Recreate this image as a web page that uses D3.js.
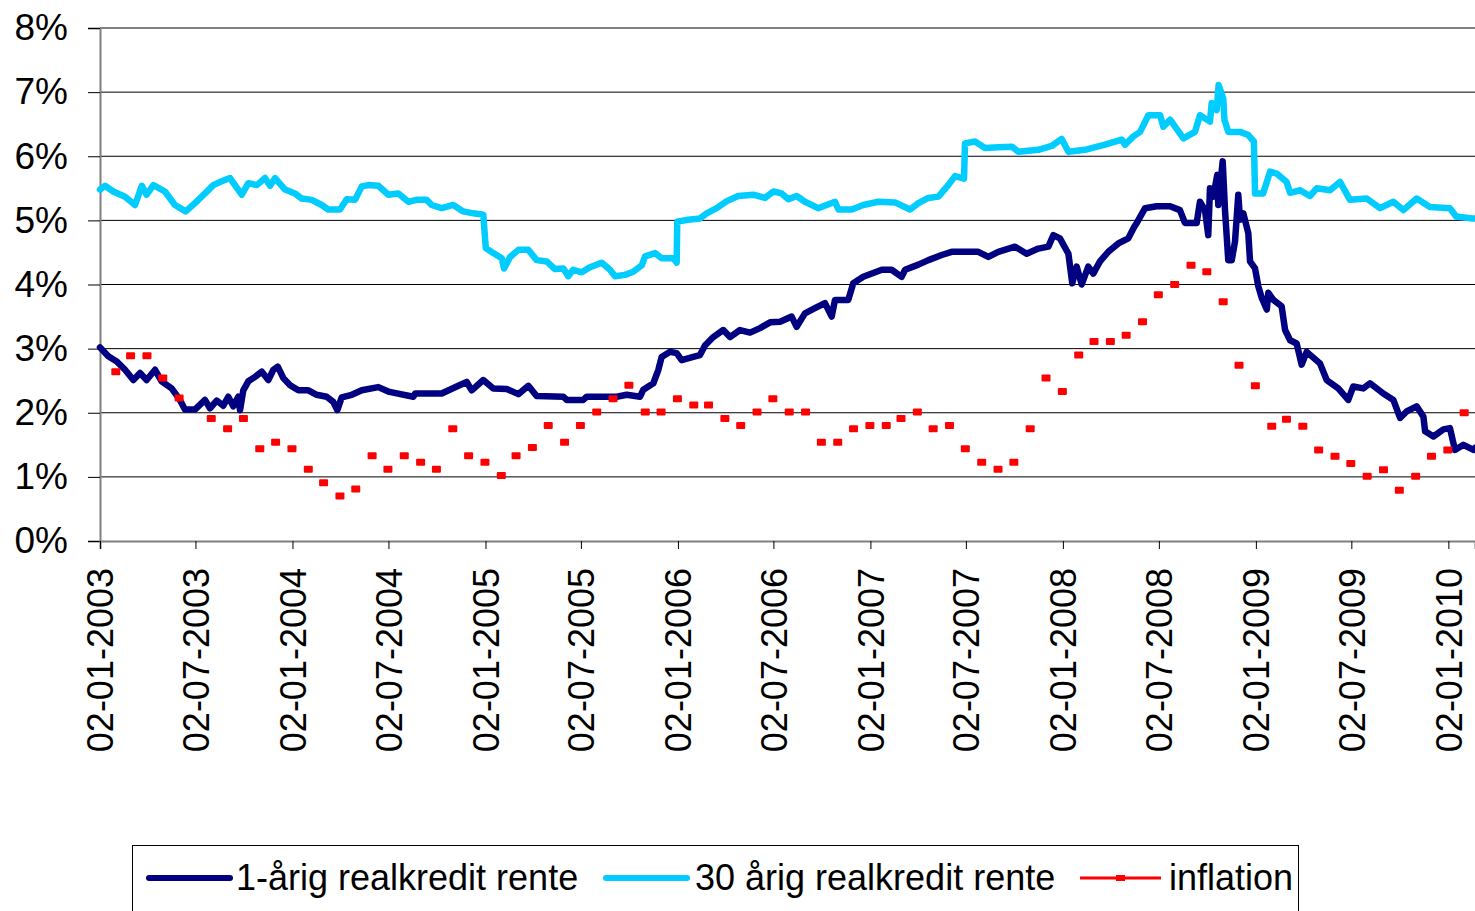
<!DOCTYPE html>
<html>
<head>
<meta charset="utf-8">
<script src="https://cdn.jsdelivr.net/npm/d3@7"></script>
<style>
  body { margin: 0; background: #fff; }
  text { font-family: "Liberation Sans", Arial, sans-serif; }
</style>
</head>
<body>
<div id="chart"></div>
<script>
// decimal year (counted from 02-01-2003) + rate in %
var navyYear = [2003.000,2003.043,2003.087,2003.130,2003.173,2003.208,2003.242,2003.286,2003.320,2003.372,
  2003.415,2003.441,2003.493,2003.545,2003.571,2003.606,2003.640,2003.666,2003.692,2003.718,
  2003.727,2003.744,2003.770,2003.805,2003.840,2003.874,2003.900,2003.923,2003.952,2003.987,
  2004.030,2004.082,2004.125,2004.177,2004.211,2004.232,2004.255,2004.307,2004.359,2004.445,
  2004.497,2004.627,2004.636,2004.774,2004.852,2004.904,2004.930,2004.990,2005.042,2005.112,
  2005.172,2005.224,2005.267,2005.406,2005.423,2005.509,2005.527,2005.683,2005.735,2005.804,
  2005.821,2005.873,2005.899,2005.916,2005.960,2005.994,2006.020,2006.080,2006.115,2006.141,
  2006.184,2006.236,2006.271,2006.323,2006.375,2006.427,2006.479,2006.531,2006.591,2006.617,
  2006.660,2006.712,2006.764,2006.799,2006.816,2006.885,2006.911,2006.963,2007.059,2007.110,
  2007.162,2007.180,2007.249,2007.301,2007.370,2007.422,2007.560,2007.612,2007.664,2007.751,
  2007.811,2007.872,2007.924,2007.950,2007.984,2008.028,2008.048,2008.071,2008.097,2008.131,
  2008.157,2008.192,2008.235,2008.287,2008.339,2008.370,2008.383,2008.426,2008.486,2008.556,
  2008.607,2008.633,2008.694,2008.711,2008.737,2008.754,2008.763,2008.780,2008.801,2008.806,
  2008.829,2008.841,2008.858,2008.876,2008.893,2008.910,2008.919,2008.936,2008.962,2008.971,
  2008.997,2009.014,2009.032,2009.058,2009.066,2009.092,2009.135,2009.153,2009.179,2009.213,
  2009.239,2009.265,2009.334,2009.369,2009.429,2009.481,2009.507,2009.559,2009.594,2009.663,
  2009.715,2009.750,2009.784,2009.836,2009.871,2009.880,2009.923,2009.975,2010.009,2010.035,
  2010.079,2010.131,2010.139];
var navyRate = [3.02,2.88,2.80,2.67,2.51,2.62,2.51,2.67,2.49,2.38,
  2.20,2.05,2.05,2.20,2.07,2.19,2.11,2.25,2.10,2.25,
  2.04,2.35,2.49,2.56,2.64,2.51,2.67,2.72,2.54,2.43,
  2.35,2.35,2.28,2.25,2.17,2.04,2.24,2.28,2.35,2.40,
  2.33,2.25,2.30,2.30,2.41,2.48,2.35,2.51,2.38,2.37,
  2.29,2.42,2.26,2.25,2.20,2.20,2.25,2.25,2.28,2.25,
  2.36,2.46,2.67,2.87,2.95,2.93,2.82,2.87,2.90,3.05,
  3.18,3.29,3.18,3.29,3.25,3.32,3.41,3.42,3.50,3.34,
  3.55,3.63,3.71,3.50,3.76,3.76,4.02,4.12,4.23,4.23,
  4.12,4.23,4.31,4.38,4.46,4.51,4.51,4.43,4.51,4.59,
  4.48,4.56,4.59,4.77,4.72,4.48,4.02,4.28,4.00,4.28,
  4.17,4.36,4.51,4.64,4.72,4.90,4.96,5.19,5.22,5.22,
  5.16,4.96,4.96,5.29,5.16,4.77,5.50,5.37,5.71,5.24,
  5.92,5.16,4.38,4.38,4.67,5.40,5.01,5.11,4.80,4.36,
  4.25,3.97,3.79,3.61,3.87,3.76,3.66,3.29,3.13,3.08,
  2.75,2.95,2.77,2.51,2.38,2.20,2.41,2.38,2.46,2.30,
  2.20,1.92,2.02,2.10,1.94,1.71,1.63,1.74,1.76,1.42,
  1.50,1.42,1.45];

var cyanYear = [2003.000,2003.026,2003.069,2003.130,2003.182,2003.217,2003.242,2003.277,2003.337,2003.389,
  2003.445,2003.493,2003.545,2003.588,2003.632,2003.675,2003.736,2003.770,2003.814,2003.857,
  2003.883,2003.909,2003.961,2004.012,2004.047,2004.099,2004.151,2004.185,2004.246,2004.281,
  2004.324,2004.359,2004.393,2004.445,2004.497,2004.549,2004.601,2004.644,2004.696,2004.722,
  2004.774,2004.834,2004.886,2004.938,2004.990,2005.003,2005.042,2005.086,2005.098,2005.129,
  2005.172,2005.224,2005.267,2005.319,2005.362,2005.406,2005.431,2005.457,2005.501,2005.544,
  2005.605,2005.648,2005.674,2005.726,2005.769,2005.813,2005.830,2005.882,2005.916,2005.977,
  2005.994,2005.997,2006.054,2006.115,2006.150,2006.202,2006.254,2006.314,2006.392,2006.453,
  2006.496,2006.539,2006.574,2006.617,2006.660,2006.729,2006.816,2006.834,2006.903,2006.963,
  2007.041,2007.128,2007.206,2007.249,2007.301,2007.353,2007.404,2007.439,2007.486,2007.491,
  2007.543,2007.595,2007.664,2007.734,2007.768,2007.872,2007.941,2007.993,2008.028,2008.114,
  2008.218,2008.305,2008.322,2008.365,2008.400,2008.443,2008.504,2008.521,2008.556,2008.625,
  2008.685,2008.711,2008.763,2008.772,2008.798,2008.808,2008.832,2008.838,2008.858,2008.919,
  2008.962,2008.991,2008.997,2009.039,2009.075,2009.109,2009.161,2009.179,2009.231,2009.282,
  2009.317,2009.386,2009.438,2009.490,2009.577,2009.646,2009.715,2009.767,2009.836,2009.905,
  2010.009,2010.041,2010.127,2010.139];
var cyanRate = [5.48,5.54,5.45,5.37,5.24,5.54,5.40,5.55,5.45,5.24,
  5.14,5.27,5.42,5.55,5.61,5.66,5.40,5.58,5.55,5.66,
  5.54,5.66,5.48,5.42,5.34,5.32,5.24,5.17,5.17,5.33,
  5.32,5.53,5.55,5.54,5.40,5.42,5.29,5.32,5.32,5.24,
  5.19,5.24,5.14,5.11,5.09,4.57,4.49,4.41,4.25,4.43,
  4.54,4.54,4.38,4.36,4.24,4.25,4.13,4.23,4.19,4.27,
  4.34,4.23,4.13,4.15,4.20,4.30,4.44,4.49,4.41,4.41,
  4.34,4.98,5.01,5.03,5.11,5.19,5.30,5.38,5.40,5.35,
  5.45,5.42,5.33,5.38,5.29,5.19,5.29,5.17,5.17,5.24,
  5.29,5.28,5.17,5.27,5.35,5.37,5.55,5.69,5.65,6.20,
  6.23,6.13,6.14,6.15,6.07,6.10,6.16,6.27,6.07,6.10,
  6.18,6.26,6.18,6.31,6.38,6.64,6.64,6.46,6.57,6.28,
  6.38,6.64,6.54,6.83,6.72,7.11,6.90,6.57,6.38,6.38,
  6.33,6.23,5.42,5.42,5.76,5.73,5.60,5.43,5.47,5.38,
  5.50,5.47,5.60,5.32,5.34,5.19,5.29,5.16,5.34,5.21,
  5.19,5.06,5.03,5.03];

// monthly inflation, Feb 2003 .. Feb 2010 (null = no observation)
var inflationStart = "2003-02";
var inflationRate = [2.64,2.89,2.89,2.54,2.23,null,1.91,1.75,1.91,1.44,1.54,
  1.44,1.12,0.91,0.70,0.81,1.33,1.12,1.33,1.23,1.12,1.75,1.33,
  1.23,1.02,1.33,1.46,1.80,1.54,1.80,2.01,2.22,2.43,2.01,2.01,
  2.22,2.12,2.12,1.91,1.80,2.01,2.22,2.01,2.01,1.54,1.54,1.75,
  1.80,1.80,1.91,2.01,1.75,1.80,1.44,1.23,1.12,1.23,1.75,2.54,
  2.33,2.90,3.11,3.11,3.21,3.42,3.84,4.00,4.30,4.20,3.73,2.74,
  2.42,1.79,1.90,1.79,1.42,1.32,1.21,1.01,1.11,0.79,1.01,1.32,
  1.42,2.00];

var yTicks = [0,1,2,3,4,5,6,7,8];
var tickYears = [2003,2004,2005,2006,2007,2008,2009,2010];
var seriesNames = ["1-årig realkredit rente", "30 årig realkredit rente", "inflation"];
var seriesColors = ["#000080", "#00CCFF", "#FF0000"];

var W = 1475, H = 911;
var margin = {left: 100, top: 28, right: 0, bottom: 370};

var start = new Date(2003, 0, 2);
function yearToDate(y) { return new Date(start.getTime() + (y - 2003) * 365.25 * 864e5); }

var svg = d3.select("#chart").append("svg")
  .attr("width", W).attr("height", H);
svg.append("rect").attr("width", W).attr("height", H).attr("fill", "#fff");

var x = d3.scaleTime()
  .domain([start, yearToDate(navyYear[navyYear.length - 1])])
  .range([margin.left, W - margin.right]);
var y = d3.scaleLinear().domain([0, 8]).range([H - margin.bottom, margin.top]);

// gridlines
svg.append("g").selectAll("line")
  .data(yTicks.filter(function(d) { return d > 0 && d < 8; }))
  .enter().append("line")
  .attr("x1", margin.left).attr("x2", W)
  .attr("y1", function(d) { return y(d); }).attr("y2", function(d) { return y(d); })
  .attr("stroke", "#000").attr("stroke-width", 1);

// top border
svg.append("line")
  .attr("x1", margin.left).attr("x2", W)
  .attr("y1", y(8)).attr("y2", y(8))
  .attr("stroke", "#808080").attr("stroke-width", 2);

// y axis
var yAxis = svg.append("g")
  .attr("transform", "translate(" + margin.left + ",0)")
  .call(d3.axisLeft(y).tickValues(yTicks).tickSize(12).tickPadding(20)
    .tickFormat(function(d) { return d + "%"; }));
yAxis.select(".domain").attr("stroke", "#808080").attr("stroke-width", 2);
yAxis.selectAll(".tick line").attr("stroke", "#000");
yAxis.selectAll("text").attr("font-size", 37).attr("fill", "#000")
  .style("font-family", '"Liberation Sans", Arial, sans-serif');

// x axis
var xTicks = [];
tickYears.forEach(function(yr) {
  xTicks.push(new Date(yr, 0, 2));
  if (yr < 2010) xTicks.push(new Date(yr, 6, 2));
});
var xAxis = svg.append("g")
  .attr("transform", "translate(0," + y(0) + ")")
  .call(d3.axisBottom(x).tickValues(xTicks).tickSize(8)
    .tickFormat(d3.timeFormat("%d-%m-%Y")));
xAxis.select(".domain").attr("stroke", "#808080").attr("stroke-width", 2);
xAxis.selectAll(".tick line").attr("stroke", "#000");
xAxis.selectAll("text")
  .attr("font-size", 36).attr("fill", "#000")
  .style("font-family", '"Liberation Sans", Arial, sans-serif')
  .attr("transform", "rotate(-90)")
  .attr("text-anchor", "end")
  .attr("x", -27).attr("y", 0).attr("dy", "0.36em");

// lines
var line = d3.line()
  .x(function(d) { return x(d[0]); })
  .y(function(d) { return y(d[1]); });

var cyanData = cyanYear.map(function(t, i) { return [yearToDate(t), cyanRate[i]]; });
var navyData = navyYear.map(function(t, i) { return [yearToDate(t), navyRate[i]]; });

svg.append("path").datum(cyanData)
  .attr("d", line).attr("fill", "none")
  .attr("stroke", seriesColors[1]).attr("stroke-width", 6.5)
  .attr("stroke-linejoin", "round").attr("stroke-linecap", "round");

svg.append("path").datum(navyData)
  .attr("d", line).attr("fill", "none")
  .attr("stroke", seriesColors[0]).attr("stroke-width", 6.5)
  .attr("stroke-linejoin", "round").attr("stroke-linecap", "round");

// inflation markers
var m0 = d3.timeParse("%Y-%m")(inflationStart);
var inflData = inflationRate.map(function(v, i) { return {date: d3.timeMonth.offset(m0, i), v: v}; })
  .filter(function(d) { return d.v != null; });

svg.append("g").selectAll("rect")
  .data(inflData).enter().append("rect")
  .attr("x", function(d) { return x(d.date) - 4.5; })
  .attr("y", function(d) { return y(d.v) - 3.5; })
  .attr("width", 9).attr("height", 7).attr("rx", 1)
  .attr("fill", seriesColors[2]);

// legend
var legend = svg.append("g");
legend.append("rect")
  .attr("x", 132.5).attr("y", 845.5).attr("width", 1166).attr("height", 80)
  .attr("fill", "#fff").attr("stroke", "#000").attr("stroke-width", 1);

var legendX = [149, 606, 1080];
var legendTextX = [236, 695, 1169];
seriesNames.forEach(function(name, i) {
  legend.append("line")
    .attr("x1", legendX[i]).attr("x2", legendX[i] + 81)
    .attr("y1", 878).attr("y2", 878)
    .attr("stroke", seriesColors[i]).attr("stroke-width", i < 2 ? 6 : 3)
    .attr("stroke-linecap", i < 2 ? "round" : "butt");
  if (i == 2) {
    legend.append("rect")
      .attr("x", legendX[i] + 36).attr("y", 875)
      .attr("width", 9).attr("height", 6)
      .attr("fill", seriesColors[2]);
  }
  legend.append("text")
    .attr("x", legendTextX[i]).attr("y", 890)
    .attr("font-size", 36).attr("fill", "#000")
    .text(name);
});
</script>
</body>
</html>
